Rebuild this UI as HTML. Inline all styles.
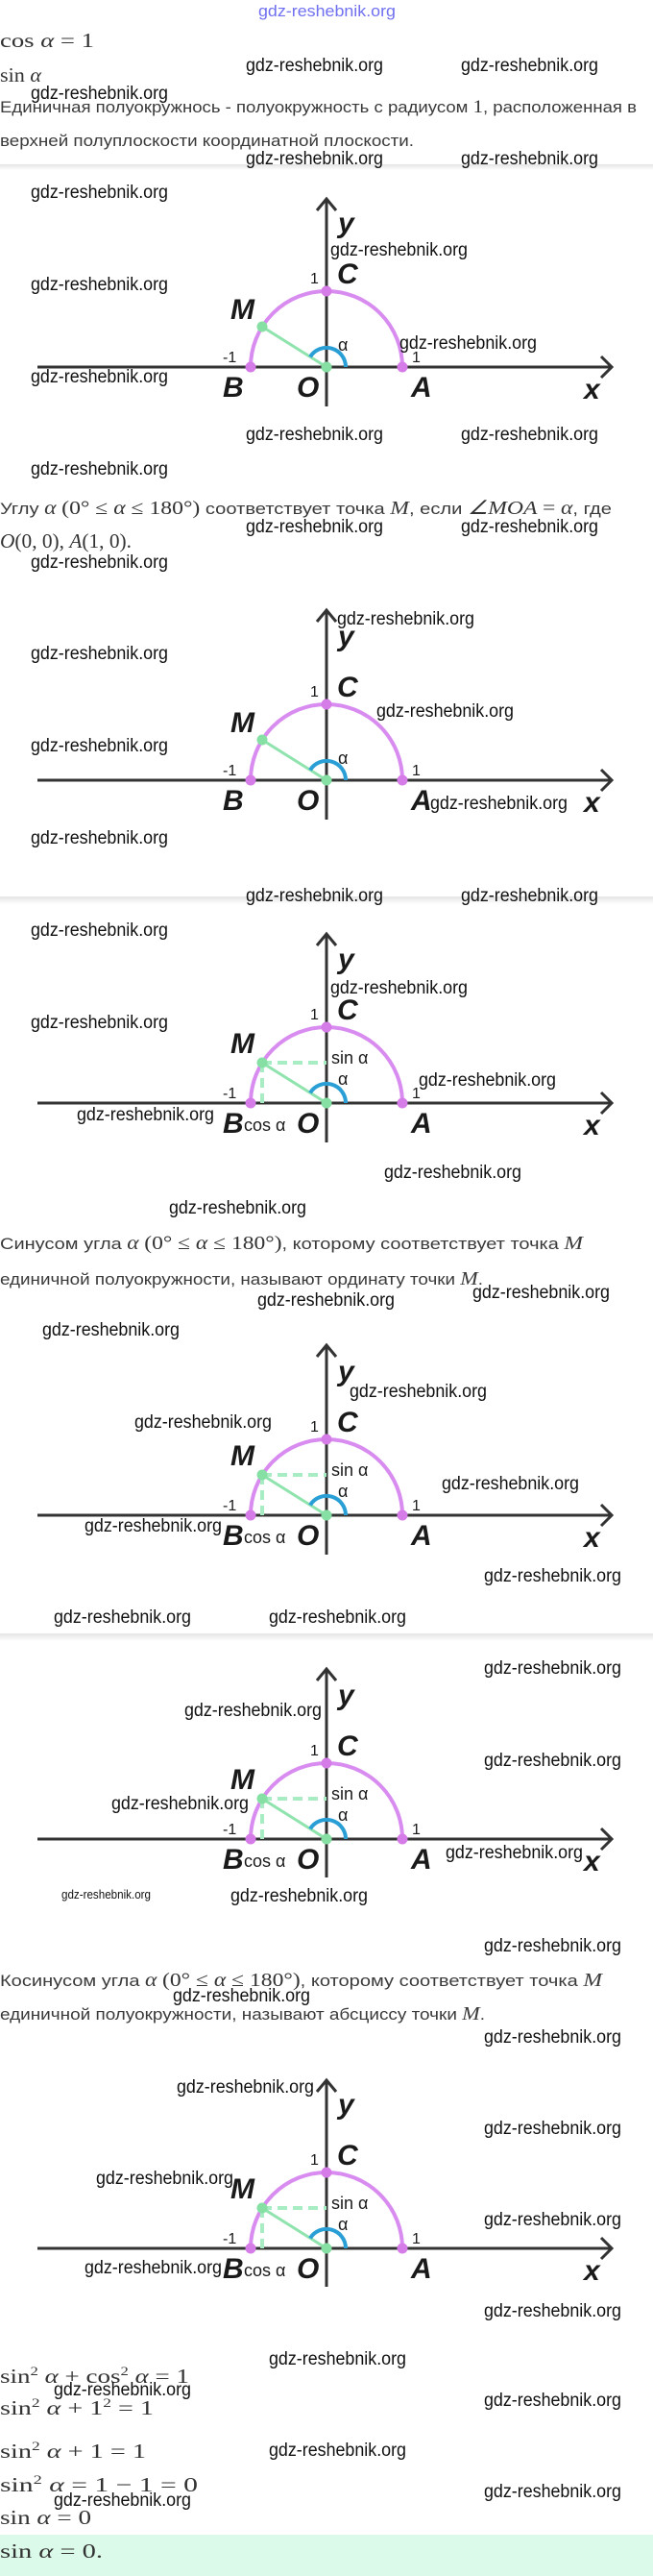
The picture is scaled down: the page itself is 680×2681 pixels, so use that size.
<!DOCTYPE html>
<html><head><meta charset="utf-8"><style>
html,body{margin:0;padding:0;background:#fff;}
svg{display:block;}
.wm{font-family:"Liberation Sans Narrow","Liberation Sans",sans-serif;font-size:19px;fill:#111;}
.tx{font-family:"Liberation Sans",sans-serif;font-size:17px;fill:#3a3a3a;}
.mt{font-family:"Liberation Serif",serif;font-size:21px;fill:#333;}
.ms{font-family:"Liberation Serif",serif;font-style:italic;}
.lb{font-family:"Liberation Sans Narrow","Liberation Sans",sans-serif;font-weight:bold;font-style:italic;font-size:30px;fill:#1a1a1a;}
.nm{font-family:"Liberation Sans",sans-serif;font-size:16px;fill:#1a1a1a;}
.al{font-family:"Liberation Sans",sans-serif;font-size:18px;fill:#1a1a1a;}
.ax{stroke:#333;stroke-width:3;fill:none;}
.arc{stroke:#d98cf0;stroke-width:4;fill:none;}
.gl{stroke:#8fe3ad;stroke-width:3;}
.ds{stroke:#a8ecc4;stroke-width:4;stroke-dasharray:10 6;}
.ba{stroke:#2a9fd6;stroke-width:4;fill:none;}
.pd{fill:#d67ce8;}
.gd{fill:#86e0a4;}
</style></head><body>
<svg width="680" height="2681" viewBox="0 0 680 2681" xmlns="http://www.w3.org/2000/svg">
<defs><linearGradient id="sh" x1="0" y1="0" x2="0" y2="1"><stop offset="0" stop-color="#e4e4e4"/><stop offset="1" stop-color="#ffffff"/></linearGradient></defs>

<!-- separators -->
<rect x="0" y="171" width="680" height="6" fill="url(#sh)"/>
<rect x="0" y="933" width="680" height="8" fill="url(#sh)"/>
<rect x="0" y="1700" width="680" height="8" fill="url(#sh)"/>

<!-- final green box -->
<rect x="0" y="2638" width="680" height="43" fill="#dcfaea"/>

<!-- top blue watermark -->
<text x="269" y="17" textLength="143" lengthAdjust="spacingAndGlyphs" style="font-family:'Liberation Sans Narrow','Liberation Sans',sans-serif;font-size:17px;fill:#7070f0;">gdz-reshebnik.org</text>

<!-- text -->
<text class="mt" x="0" y="49" textLength="98" lengthAdjust="spacingAndGlyphs">cos <tspan class="ms">α</tspan> = 1</text>
<text class="mt" x="0" y="85" textLength="43" lengthAdjust="spacingAndGlyphs">sin <tspan class="ms">α</tspan></text>
<text class="tx" x="0" y="117" textLength="663" lengthAdjust="spacingAndGlyphs">Единичная полуокружнось - полуокружность с радиусом <tspan class="mt" style="font-size:19px">1</tspan>, расположенная в</text>
<text class="tx" x="0" y="152" textLength="431" lengthAdjust="spacingAndGlyphs">верхней полуплоскости координатной плоскости.</text>

<text class="tx" x="0" y="535" textLength="637" lengthAdjust="spacingAndGlyphs">Углу <tspan class="ms" style="font-size:20px">α</tspan> <tspan class="mt" style="font-size:20px">(0° ≤ <tspan class="ms">α</tspan> ≤ 180°)</tspan> соответствует точка <tspan class="ms" style="font-size:20px">M</tspan>, если <tspan class="mt ms" style="font-size:20px">∠MOA</tspan> <tspan class="mt" style="font-size:20px">=</tspan> <tspan class="ms" style="font-size:20px">α</tspan>, где</text>
<text class="mt" x="0" y="570" textLength="137" lengthAdjust="spacingAndGlyphs"><tspan class="ms">O</tspan>(0, 0), <tspan class="ms">A</tspan>(1, 0).</text>

<text class="tx" x="0" y="1300" textLength="607" lengthAdjust="spacingAndGlyphs">Синусом угла <tspan class="ms" style="font-size:20px">α</tspan> <tspan class="mt" style="font-size:20px">(0° ≤ <tspan class="ms">α</tspan> ≤ 180°)</tspan>, которому соответствует точка <tspan class="ms" style="font-size:20px">M</tspan></text>
<text class="tx" x="0" y="1337" textLength="503" lengthAdjust="spacingAndGlyphs">единичной полуокружности, называют ординату точки <tspan class="ms" style="font-size:20px">M</tspan>.</text>

<text class="tx" x="0" y="2067" textLength="627" lengthAdjust="spacingAndGlyphs">Косинусом угла <tspan class="ms" style="font-size:20px">α</tspan> <tspan class="mt" style="font-size:20px">(0° ≤ <tspan class="ms">α</tspan> ≤ 180°)</tspan>, которому соответствует точка <tspan class="ms" style="font-size:20px">M</tspan></text>
<text class="tx" x="0" y="2102" textLength="505" lengthAdjust="spacingAndGlyphs">единичной полуокружности, называют абсциссу точки <tspan class="ms" style="font-size:20px">M</tspan>.</text>

<text class="mt" x="0" y="2480" textLength="197" lengthAdjust="spacingAndGlyphs">sin<tspan dy="-8" font-size="13">2</tspan><tspan dy="8"> </tspan><tspan class="ms">α</tspan> + cos<tspan dy="-8" font-size="13">2</tspan><tspan dy="8"> </tspan><tspan class="ms">α</tspan> = 1</text>
<text class="mt" x="0" y="2513" textLength="160" lengthAdjust="spacingAndGlyphs">sin<tspan dy="-8" font-size="13">2</tspan><tspan dy="8"> </tspan><tspan class="ms">α</tspan> + 1<tspan dy="-8" font-size="13">2</tspan><tspan dy="8"> </tspan>= 1</text>
<text class="mt" x="0" y="2558" textLength="152" lengthAdjust="spacingAndGlyphs">sin<tspan dy="-8" font-size="13">2</tspan><tspan dy="8"> </tspan><tspan class="ms">α</tspan> + 1 = 1</text>
<text class="mt" x="0" y="2593" textLength="206" lengthAdjust="spacingAndGlyphs">sin<tspan dy="-8" font-size="13">2</tspan><tspan dy="8"> </tspan><tspan class="ms">α</tspan> = 1 − 1 = 0</text>
<text class="mt" x="0" y="2627" textLength="95" lengthAdjust="spacingAndGlyphs">sin <tspan class="ms">α</tspan> = 0</text>
<text class="mt" x="0" y="2662" textLength="107" lengthAdjust="spacingAndGlyphs">sin <tspan class="ms">α</tspan> = 0.</text>

<!-- Diagram 1 -->
<g transform="translate(340,382)">
<line class="ax" x1="-301" y1="0" x2="297" y2="0"/><polyline class="ax" points="286,-11 297,0 286,11"/>
<line class="ax" x1="0" y1="-175" x2="0" y2="41"/><polyline class="ax" points="-10,-163 0,-175 10,-163"/>
<path class="arc" d="M -79 0 A 79 79 0 0 1 79 0"/>
<line class="gl" x1="0" y1="0" x2="-67" y2="-42"/>
<path class="ba" d="M 20 0 A 20 20 0 0 0 -17 -10.6"/>
<circle class="pd" cx="-79" cy="0" r="5.5"/><circle class="pd" cx="79" cy="0" r="5.5"/><circle class="pd" cx="0" cy="-79" r="5.5"/>
<circle class="gd" cx="0" cy="0" r="5.5"/><circle class="gd" cx="-67" cy="-42" r="5.5"/>
<text class="lb" x="12" y="-140">y</text><text class="lb" x="11" y="-87">C</text><text class="nm" x="-17" y="-87">1</text>
<text class="lb" x="-100" y="-50">M</text><text class="al" x="12" y="-17">α</text>
<text class="nm" x="-108" y="-5">-1</text><text class="nm" x="89" y="-5">1</text>
<text class="lb" x="-108" y="31">B</text><text class="lb" x="-31" y="31">O</text><text class="lb" x="88" y="31">A</text><text class="lb" x="268" y="33">x</text>
</g>

<!-- Diagram 2 -->
<g transform="translate(340,812)">
<line class="ax" x1="-301" y1="0" x2="297" y2="0"/><polyline class="ax" points="286,-11 297,0 286,11"/>
<line class="ax" x1="0" y1="-177" x2="0" y2="41"/><polyline class="ax" points="-10,-165 0,-177 10,-165"/>
<path class="arc" d="M -79 0 A 79 79 0 0 1 79 0"/>
<line class="gl" x1="0" y1="0" x2="-67" y2="-42"/>
<path class="ba" d="M 20 0 A 20 20 0 0 0 -17 -10.6"/>
<circle class="pd" cx="-79" cy="0" r="5.5"/><circle class="pd" cx="79" cy="0" r="5.5"/><circle class="pd" cx="0" cy="-79" r="5.5"/>
<circle class="gd" cx="0" cy="0" r="5.5"/><circle class="gd" cx="-67" cy="-42" r="5.5"/>
<text class="lb" x="12" y="-140">y</text><text class="lb" x="11" y="-87">C</text><text class="nm" x="-17" y="-87">1</text>
<text class="lb" x="-100" y="-50">M</text><text class="al" x="12" y="-17">α</text>
<text class="nm" x="-108" y="-5">-1</text><text class="nm" x="89" y="-5">1</text>
<text class="lb" x="-108" y="31">B</text><text class="lb" x="-31" y="31">O</text><text class="lb" x="88" y="31">A</text><text class="lb" x="268" y="33">x</text>
</g>

<!-- Diagrams 3-6 (with sin/cos) -->
<g transform="translate(340,1148)">
<line class="ax" x1="-301" y1="0" x2="297" y2="0"/><polyline class="ax" points="286,-11 297,0 286,11"/>
<line class="ax" x1="0" y1="-176" x2="0" y2="41"/><polyline class="ax" points="-10,-164 0,-176 10,-164"/>
<path class="arc" d="M -79 0 A 79 79 0 0 1 79 0"/>
<line class="ds" x1="-67" y1="-42" x2="0" y2="-42"/><line class="ds" x1="-67" y1="-42" x2="-67" y2="0"/>
<line class="gl" x1="0" y1="0" x2="-67" y2="-42"/>
<path class="ba" d="M 20 0 A 20 20 0 0 0 -17 -10.6"/>
<circle class="pd" cx="-79" cy="0" r="5.5"/><circle class="pd" cx="79" cy="0" r="5.5"/><circle class="pd" cx="0" cy="-79" r="5.5"/>
<circle class="gd" cx="0" cy="0" r="5.5"/><circle class="gd" cx="-67" cy="-42" r="5.5"/>
<text class="lb" x="12" y="-140">y</text><text class="lb" x="11" y="-87">C</text><text class="nm" x="-17" y="-87">1</text>
<text class="lb" x="-100" y="-52">M</text><text class="al" x="5" y="-41">sin α</text><text class="al" x="12" y="-19">α</text>
<text class="nm" x="-108" y="-5">-1</text><text class="nm" x="89" y="-5">1</text>
<text class="lb" x="-108" y="31">B</text><text class="al" x="-86" y="29">cos α</text><text class="lb" x="-31" y="31">O</text><text class="lb" x="88" y="31">A</text><text class="lb" x="268" y="33">x</text>
</g>

<g transform="translate(340,1577)">
<line class="ax" x1="-301" y1="0" x2="297" y2="0"/><polyline class="ax" points="286,-11 297,0 286,11"/>
<line class="ax" x1="0" y1="-177" x2="0" y2="41"/><polyline class="ax" points="-10,-165 0,-177 10,-165"/>
<path class="arc" d="M -79 0 A 79 79 0 0 1 79 0"/>
<line class="ds" x1="-67" y1="-42" x2="0" y2="-42"/><line class="ds" x1="-67" y1="-42" x2="-67" y2="0"/>
<line class="gl" x1="0" y1="0" x2="-67" y2="-42"/>
<path class="ba" d="M 20 0 A 20 20 0 0 0 -17 -10.6"/>
<circle class="pd" cx="-79" cy="0" r="5.5"/><circle class="pd" cx="79" cy="0" r="5.5"/><circle class="pd" cx="0" cy="-79" r="5.5"/>
<circle class="gd" cx="0" cy="0" r="5.5"/><circle class="gd" cx="-67" cy="-42" r="5.5"/>
<text class="lb" x="12" y="-140">y</text><text class="lb" x="11" y="-87">C</text><text class="nm" x="-17" y="-87">1</text>
<text class="lb" x="-100" y="-52">M</text><text class="al" x="5" y="-41">sin α</text><text class="al" x="12" y="-19">α</text>
<text class="nm" x="-108" y="-5">-1</text><text class="nm" x="89" y="-5">1</text>
<text class="lb" x="-108" y="31">B</text><text class="al" x="-86" y="29">cos α</text><text class="lb" x="-31" y="31">O</text><text class="lb" x="88" y="31">A</text><text class="lb" x="268" y="33">x</text>
</g>

<g transform="translate(340,1914)">
<line class="ax" x1="-301" y1="0" x2="297" y2="0"/><polyline class="ax" points="286,-11 297,0 286,11"/>
<line class="ax" x1="0" y1="-177" x2="0" y2="40"/><polyline class="ax" points="-10,-165 0,-177 10,-165"/>
<path class="arc" d="M -79 0 A 79 79 0 0 1 79 0"/>
<line class="ds" x1="-67" y1="-42" x2="0" y2="-42"/><line class="ds" x1="-67" y1="-42" x2="-67" y2="0"/>
<line class="gl" x1="0" y1="0" x2="-67" y2="-42"/>
<path class="ba" d="M 20 0 A 20 20 0 0 0 -17 -10.6"/>
<circle class="pd" cx="-79" cy="0" r="5.5"/><circle class="pd" cx="79" cy="0" r="5.5"/><circle class="pd" cx="0" cy="-79" r="5.5"/>
<circle class="gd" cx="0" cy="0" r="5.5"/><circle class="gd" cx="-67" cy="-42" r="5.5"/>
<text class="lb" x="12" y="-140">y</text><text class="lb" x="11" y="-87">C</text><text class="nm" x="-17" y="-87">1</text>
<text class="lb" x="-100" y="-52">M</text><text class="al" x="5" y="-41">sin α</text><text class="al" x="12" y="-19">α</text>
<text class="nm" x="-108" y="-5">-1</text><text class="nm" x="89" y="-5">1</text>
<text class="lb" x="-108" y="31">B</text><text class="al" x="-86" y="29">cos α</text><text class="lb" x="-31" y="31">O</text><text class="lb" x="88" y="31">A</text><text class="lb" x="268" y="33">x</text>
</g>

<g transform="translate(340,2340)">
<line class="ax" x1="-301" y1="0" x2="297" y2="0"/><polyline class="ax" points="286,-11 297,0 286,11"/>
<line class="ax" x1="0" y1="-175" x2="0" y2="40"/><polyline class="ax" points="-10,-163 0,-175 10,-163"/>
<path class="arc" d="M -79 0 A 79 79 0 0 1 79 0"/>
<line class="ds" x1="-67" y1="-42" x2="0" y2="-42"/><line class="ds" x1="-67" y1="-42" x2="-67" y2="0"/>
<line class="gl" x1="0" y1="0" x2="-67" y2="-42"/>
<path class="ba" d="M 20 0 A 20 20 0 0 0 -17 -10.6"/>
<circle class="pd" cx="-79" cy="0" r="5.5"/><circle class="pd" cx="79" cy="0" r="5.5"/><circle class="pd" cx="0" cy="-79" r="5.5"/>
<circle class="gd" cx="0" cy="0" r="5.5"/><circle class="gd" cx="-67" cy="-42" r="5.5"/>
<text class="lb" x="12" y="-140">y</text><text class="lb" x="11" y="-87">C</text><text class="nm" x="-17" y="-87">1</text>
<text class="lb" x="-100" y="-52">M</text><text class="al" x="5" y="-41">sin α</text><text class="al" x="12" y="-19">α</text>
<text class="nm" x="-108" y="-5">-1</text><text class="nm" x="89" y="-5">1</text>
<text class="lb" x="-108" y="31">B</text><text class="al" x="-86" y="29">cos α</text><text class="lb" x="-31" y="31">O</text><text class="lb" x="88" y="31">A</text><text class="lb" x="268" y="33">x</text>
</g>

<!-- watermarks -->
<g class="wm">
<text x="256" y="74" textLength="143" lengthAdjust="spacingAndGlyphs">gdz-reshebnik.org</text>
<text x="480" y="74" textLength="143" lengthAdjust="spacingAndGlyphs">gdz-reshebnik.org</text>
<text x="32" y="103" textLength="143" lengthAdjust="spacingAndGlyphs">gdz-reshebnik.org</text>
<text x="256" y="171" textLength="143" lengthAdjust="spacingAndGlyphs">gdz-reshebnik.org</text>
<text x="480" y="171" textLength="143" lengthAdjust="spacingAndGlyphs">gdz-reshebnik.org</text>
<text x="32" y="206" textLength="143" lengthAdjust="spacingAndGlyphs">gdz-reshebnik.org</text>
<text x="344" y="266" textLength="143" lengthAdjust="spacingAndGlyphs">gdz-reshebnik.org</text>
<text x="32" y="302" textLength="143" lengthAdjust="spacingAndGlyphs">gdz-reshebnik.org</text>
<text x="416" y="363" textLength="143" lengthAdjust="spacingAndGlyphs">gdz-reshebnik.org</text>
<text x="32" y="398" textLength="143" lengthAdjust="spacingAndGlyphs">gdz-reshebnik.org</text>
<text x="256" y="458" textLength="143" lengthAdjust="spacingAndGlyphs">gdz-reshebnik.org</text>
<text x="480" y="458" textLength="143" lengthAdjust="spacingAndGlyphs">gdz-reshebnik.org</text>
<text x="32" y="494" textLength="143" lengthAdjust="spacingAndGlyphs">gdz-reshebnik.org</text>
<text x="256" y="554" textLength="143" lengthAdjust="spacingAndGlyphs">gdz-reshebnik.org</text>
<text x="480" y="554" textLength="143" lengthAdjust="spacingAndGlyphs">gdz-reshebnik.org</text>
<text x="32" y="591" textLength="143" lengthAdjust="spacingAndGlyphs">gdz-reshebnik.org</text>
<text x="351" y="650" textLength="143" lengthAdjust="spacingAndGlyphs">gdz-reshebnik.org</text>
<text x="32" y="686" textLength="143" lengthAdjust="spacingAndGlyphs">gdz-reshebnik.org</text>
<text x="392" y="746" textLength="143" lengthAdjust="spacingAndGlyphs">gdz-reshebnik.org</text>
<text x="32" y="782" textLength="143" lengthAdjust="spacingAndGlyphs">gdz-reshebnik.org</text>
<text x="448" y="842" textLength="143" lengthAdjust="spacingAndGlyphs">gdz-reshebnik.org</text>
<text x="32" y="878" textLength="143" lengthAdjust="spacingAndGlyphs">gdz-reshebnik.org</text>
<text x="256" y="938" textLength="143" lengthAdjust="spacingAndGlyphs">gdz-reshebnik.org</text>
<text x="480" y="938" textLength="143" lengthAdjust="spacingAndGlyphs">gdz-reshebnik.org</text>
<text x="32" y="974" textLength="143" lengthAdjust="spacingAndGlyphs">gdz-reshebnik.org</text>
<text x="344" y="1034" textLength="143" lengthAdjust="spacingAndGlyphs">gdz-reshebnik.org</text>
<text x="32" y="1070" textLength="143" lengthAdjust="spacingAndGlyphs">gdz-reshebnik.org</text>
<text x="436" y="1130" textLength="143" lengthAdjust="spacingAndGlyphs">gdz-reshebnik.org</text>
<text x="80" y="1166" textLength="143" lengthAdjust="spacingAndGlyphs">gdz-reshebnik.org</text>
<text x="400" y="1226" textLength="143" lengthAdjust="spacingAndGlyphs">gdz-reshebnik.org</text>
<text x="176" y="1263" textLength="143" lengthAdjust="spacingAndGlyphs">gdz-reshebnik.org</text>
<text x="492" y="1351" textLength="143" lengthAdjust="spacingAndGlyphs">gdz-reshebnik.org</text>
<text x="268" y="1359" textLength="143" lengthAdjust="spacingAndGlyphs">gdz-reshebnik.org</text>
<text x="44" y="1390" textLength="143" lengthAdjust="spacingAndGlyphs">gdz-reshebnik.org</text>
<text x="364" y="1454" textLength="143" lengthAdjust="spacingAndGlyphs">gdz-reshebnik.org</text>
<text x="140" y="1486" textLength="143" lengthAdjust="spacingAndGlyphs">gdz-reshebnik.org</text>
<text x="460" y="1550" textLength="143" lengthAdjust="spacingAndGlyphs">gdz-reshebnik.org</text>
<text x="88" y="1594" textLength="143" lengthAdjust="spacingAndGlyphs">gdz-reshebnik.org</text>
<text x="504" y="1646" textLength="143" lengthAdjust="spacingAndGlyphs">gdz-reshebnik.org</text>
<text x="56" y="1689" textLength="143" lengthAdjust="spacingAndGlyphs">gdz-reshebnik.org</text>
<text x="280" y="1689" textLength="143" lengthAdjust="spacingAndGlyphs">gdz-reshebnik.org</text>
<text x="504" y="1742" textLength="143" lengthAdjust="spacingAndGlyphs">gdz-reshebnik.org</text>
<text x="192" y="1786" textLength="143" lengthAdjust="spacingAndGlyphs">gdz-reshebnik.org</text>
<text x="504" y="1838" textLength="143" lengthAdjust="spacingAndGlyphs">gdz-reshebnik.org</text>
<text x="116" y="1883" textLength="143" lengthAdjust="spacingAndGlyphs">gdz-reshebnik.org</text>
<text x="464" y="1934" textLength="143" lengthAdjust="spacingAndGlyphs">gdz-reshebnik.org</text>
<text x="64" y="1976" textLength="93" lengthAdjust="spacingAndGlyphs" style="font-size:13px">gdz-reshebnik.org</text>
<text x="240" y="1979" textLength="143" lengthAdjust="spacingAndGlyphs">gdz-reshebnik.org</text>
<text x="504" y="2031" textLength="143" lengthAdjust="spacingAndGlyphs">gdz-reshebnik.org</text>
<text x="180" y="2083" textLength="143" lengthAdjust="spacingAndGlyphs">gdz-reshebnik.org</text>
<text x="504" y="2126" textLength="143" lengthAdjust="spacingAndGlyphs">gdz-reshebnik.org</text>
<text x="184" y="2178" textLength="143" lengthAdjust="spacingAndGlyphs">gdz-reshebnik.org</text>
<text x="504" y="2221" textLength="143" lengthAdjust="spacingAndGlyphs">gdz-reshebnik.org</text>
<text x="100" y="2273" textLength="143" lengthAdjust="spacingAndGlyphs">gdz-reshebnik.org</text>
<text x="504" y="2316" textLength="143" lengthAdjust="spacingAndGlyphs">gdz-reshebnik.org</text>
<text x="88" y="2366" textLength="143" lengthAdjust="spacingAndGlyphs">gdz-reshebnik.org</text>
<text x="504" y="2411" textLength="143" lengthAdjust="spacingAndGlyphs">gdz-reshebnik.org</text>
<text x="280" y="2461" textLength="143" lengthAdjust="spacingAndGlyphs">gdz-reshebnik.org</text>
<text x="56" y="2493" textLength="143" lengthAdjust="spacingAndGlyphs">gdz-reshebnik.org</text>
<text x="504" y="2504" textLength="143" lengthAdjust="spacingAndGlyphs">gdz-reshebnik.org</text>
<text x="280" y="2556" textLength="143" lengthAdjust="spacingAndGlyphs">gdz-reshebnik.org</text>
<text x="504" y="2599" textLength="143" lengthAdjust="spacingAndGlyphs">gdz-reshebnik.org</text>
<text x="56" y="2608" textLength="143" lengthAdjust="spacingAndGlyphs">gdz-reshebnik.org</text>
</g>
</svg>
</body></html>
